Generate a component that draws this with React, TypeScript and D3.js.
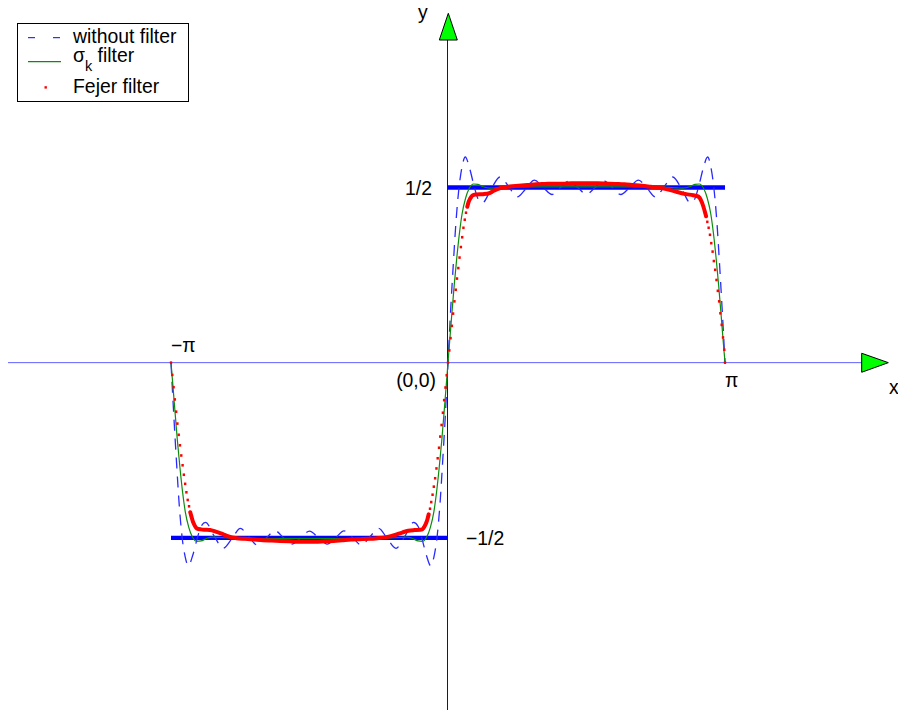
import React from 'react';
import * as d3 from 'd3';

type P = [number, number];

// Partial sums: x in radians, y value.
const withoutFilter: P[] = [
  [-3.1416, 0], [-3.11, -0.15], [-3.08, -0.28], [-3.05, -0.40], [-3.015, -0.50], [-2.98, -0.555],
  [-2.945, -0.58], [-2.895, -0.55], [-2.845, -0.503], [-2.80, -0.467], [-2.75, -0.456], [-2.65, -0.496],
  [-2.55, -0.53], [-2.45, -0.502], [-2.355, -0.473], [-2.26, -0.497], [-2.16, -0.521], [-2.06, -0.5],
  [-1.96, -0.48], [-1.865, -0.5], [-1.77, -0.518], [-1.67, -0.5], [-1.57, -0.481], [-1.47, -0.5],
  [-1.37, -0.518], [-1.275, -0.5], [-1.18, -0.48], [-1.08, -0.5], [-0.98, -0.521], [-0.885, -0.497],
  [-0.785, -0.473], [-0.69, -0.502], [-0.59, -0.53], [-0.49, -0.496], [-0.39, -0.456], [-0.34, -0.467],
  [-0.295, -0.503], [-0.245, -0.55], [-0.196, -0.58], [-0.16, -0.555], [-0.125, -0.50], [-0.09, -0.40],
  [-0.06, -0.28], [-0.03, -0.15], [0, 0],
  [0.03, 0.15], [0.06, 0.28], [0.09, 0.40], [0.125, 0.50], [0.16, 0.56], [0.196, 0.587],
  [0.245, 0.555], [0.295, 0.505], [0.34, 0.468], [0.39, 0.456], [0.49, 0.496], [0.59, 0.53],
  [0.69, 0.502], [0.785, 0.473], [0.885, 0.497], [0.98, 0.521], [1.08, 0.5], [1.18, 0.48],
  [1.275, 0.5], [1.37, 0.518], [1.47, 0.5], [1.57, 0.481], [1.67, 0.5], [1.77, 0.518],
  [1.865, 0.5], [1.96, 0.48], [2.06, 0.5], [2.16, 0.521], [2.26, 0.497], [2.355, 0.473],
  [2.45, 0.502], [2.55, 0.53], [2.65, 0.496], [2.75, 0.456], [2.80, 0.468], [2.845, 0.505],
  [2.895, 0.555], [2.945, 0.587], [2.98, 0.56], [3.015, 0.50], [3.05, 0.40], [3.08, 0.28],
  [3.11, 0.15], [3.1416, 0],
];

const sigmaFilter: P[] = [
  [-3.1416, 0], [-3.12, -0.065], [-3.10, -0.128], [-3.07, -0.22], [-3.04, -0.30], [-3.01, -0.37],
  [-2.98, -0.425], [-2.94, -0.47], [-2.90, -0.497], [-2.85, -0.51], [-2.80, -0.509], [-2.74, -0.502],
  [-2.67, -0.498], [-2.59, -0.499], [-2.45, -0.501], [-2.15, -0.502], [-1.85, -0.502], [-1.57, -0.502],
  [-1.3, -0.502], [-1.0, -0.502], [-0.7, -0.501], [-0.55, -0.499], [-0.47, -0.498], [-0.4, -0.502],
  [-0.34, -0.509], [-0.29, -0.51], [-0.24, -0.497], [-0.2, -0.47], [-0.16, -0.425], [-0.13, -0.37],
  [-0.1, -0.30], [-0.07, -0.22], [-0.04, -0.128], [-0.02, -0.065], [0, 0],
  [0.02, 0.065], [0.04, 0.128], [0.07, 0.22], [0.1, 0.30], [0.13, 0.37], [0.16, 0.425],
  [0.2, 0.47], [0.24, 0.497], [0.29, 0.51], [0.34, 0.509], [0.4, 0.502], [0.47, 0.498],
  [0.55, 0.499], [0.7, 0.501], [1.0, 0.502], [1.3, 0.502], [1.57, 0.502], [1.85, 0.502],
  [2.15, 0.502], [2.45, 0.501], [2.59, 0.499], [2.67, 0.498], [2.74, 0.502], [2.80, 0.509],
  [2.85, 0.51], [2.90, 0.497], [2.94, 0.47], [2.98, 0.425], [3.01, 0.37], [3.04, 0.30],
  [3.07, 0.22], [3.10, 0.128], [3.12, 0.065], [3.1416, 0],
];

const fejerFilter: P[] = [
  [-3.1416, 0], [-3.127, -0.035], [-3.112, -0.07], [-3.098, -0.105], [-3.083, -0.14], [-3.069, -0.174],
  [-3.054, -0.206], [-3.04, -0.236], [-3.025, -0.265], [-3.01, -0.293], [-2.996, -0.32], [-2.981, -0.346],
  [-2.967, -0.37], [-2.952, -0.392], [-2.937, -0.41], [-2.923, -0.427], [-2.908, -0.441], [-2.894, -0.453],
  [-2.879, -0.462], [-2.864, -0.469], [-2.85, -0.473], [-2.8, -0.476], [-2.75, -0.477], [-2.7, -0.478],
  [-2.65, -0.481], [-2.6, -0.485], [-2.55, -0.49], [-2.5, -0.495], [-2.45, -0.499], [-2.4, -0.501],
  [-2.3, -0.503], [-2.2, -0.505], [-2.1, -0.507], [-2.0, -0.508], [-1.9, -0.509], [-1.8, -0.51],
  [-1.7, -0.511], [-1.6, -0.511], [-1.5, -0.511], [-1.4, -0.51], [-1.3, -0.509], [-1.2, -0.507],
  [-1.1, -0.505], [-1.0, -0.504], [-0.9, -0.503], [-0.8, -0.501], [-0.7, -0.498], [-0.6, -0.492],
  [-0.52, -0.485], [-0.45, -0.48], [-0.38, -0.478], [-0.32, -0.477], [-0.292, -0.476], [-0.277, -0.472],
  [-0.263, -0.466], [-0.248, -0.458], [-0.233, -0.447], [-0.219, -0.433], [-0.204, -0.417], [-0.19, -0.398],
  [-0.175, -0.377], [-0.161, -0.354], [-0.146, -0.33], [-0.131, -0.302], [-0.117, -0.273], [-0.102, -0.243],
  [-0.088, -0.211], [-0.073, -0.178], [-0.058, -0.143], [-0.044, -0.107], [-0.029, -0.071], [-0.015, -0.036],
  [0, 0],
  [0.015, 0.035], [0.029, 0.07], [0.044, 0.105], [0.058, 0.14], [0.073, 0.175], [0.088, 0.208],
  [0.102, 0.24], [0.117, 0.27], [0.131, 0.3], [0.146, 0.33], [0.161, 0.358], [0.175, 0.385],
  [0.19, 0.408], [0.204, 0.428], [0.219, 0.445], [0.233, 0.458], [0.248, 0.467], [0.263, 0.473],
  [0.277, 0.477], [0.292, 0.479], [0.32, 0.48], [0.4, 0.481], [0.47, 0.484], [0.52, 0.491],
  [0.6, 0.499], [0.7, 0.503], [0.8, 0.505], [0.9, 0.507], [1.0, 0.509], [1.1, 0.51],
  [1.2, 0.511], [1.3, 0.511], [1.4, 0.512], [1.5, 0.512], [1.6, 0.512], [1.7, 0.512],
  [1.8, 0.511], [1.9, 0.51], [2.0, 0.509], [2.1, 0.507], [2.2, 0.505], [2.3, 0.502],
  [2.4, 0.499], [2.5, 0.494], [2.6, 0.487], [2.7, 0.481], [2.78, 0.478], [2.84, 0.474],
  [2.853, 0.471], [2.867, 0.465], [2.882, 0.456], [2.897, 0.445], [2.912, 0.432], [2.927, 0.418],
  [2.941, 0.402], [2.956, 0.385], [2.971, 0.365], [2.986, 0.341], [3.001, 0.317], [3.015, 0.29],
  [3.03, 0.265], [3.045, 0.236], [3.06, 0.205], [3.075, 0.175], [3.089, 0.141], [3.104, 0.108],
  [3.119, 0.072], [3.134, 0.037], [3.1416, 0],
];

// the square wave itself
const squareWave = [
  { x0: -Math.PI, x1: 0, y: -0.5 },
  { x0: 0, x1: Math.PI, y: 0.5 },
];

const xTickLabels = [
  { v: -Math.PI, label: '−π' },
  { v: Math.PI, label: 'π' },
];
const yTickLabels = [
  { v: 0.5, label: '1/2' },
  { v: -0.5, label: '−1/2' },
];
const legendLabels = ['without filter', 'σ', 'Fejer filter'];

const FONT = '"Liberation Sans", Arial, Helvetica, sans-serif';

export default function App() {
  const x = d3.scaleLinear().domain([-Math.PI, Math.PI]).range([171, 725]);
  const y = d3.scaleLinear().domain([-0.5, 0.5]).range([537.8, 187.5]);
  const line = d3
    .line<P>()
    .x((d) => x(d[0]))
    .y((d) => y(d[1]))
    .curve(d3.curveMonotoneX);

  // Fejer: dots, which merge into a thick band where consecutive samples are close
  const runs: P[][] = [];
  let cur: P[] = [fejerFilter[0]];
  for (let i = 1; i < fejerFilter.length; i++) {
    const a = fejerFilter[i - 1];
    const b = fejerFilter[i];
    if (Math.abs(y(a[1]) - y(b[1])) < 5) {
      cur.push(b);
    } else {
      if (cur.length > 1) runs.push(cur);
      cur = [b];
    }
  }
  if (cur.length > 1) runs.push(cur);

  const x0 = x(0);
  const y0 = y(0);

  return (
    <svg
      width={898}
      height={710}
      style={{ position: 'absolute', left: 0, top: 0, background: '#fff' }}
      fontFamily={FONT}
    >
      <rect x={0} y={0} width={898} height={710} fill="#fff" />
      {/* axes */}
      <line x1={8} x2={862} y1={y0} y2={y0} stroke="#6060ff" strokeWidth={1} />
      <line x1={x0 - 0.5} x2={x0 - 0.5} y1={40} y2={710} stroke="#0000ff" strokeWidth={1} />
      <polygon
        points={`${x0 - 8.7},40 ${x0 + 9.3},40 ${x0 + 0.3},13.3`}
        fill="#00ff00"
        stroke="#000"
        strokeWidth={1}
      />
      <polygon
        points={`861.7,${y0 - 9.4} 861.7,${y0 + 9.6} 888.3,${y0}`}
        fill="#00ff00"
        stroke="#000"
        strokeWidth={1}
      />

      {/* square wave */}
      {squareWave.map((s, i) => (
        <line key={i} x1={x(s.x0)} x2={x(s.x1)} y1={y(s.y)} y2={y(s.y)} stroke="#0000ff" strokeWidth={4.3} />
      ))}

      {/* without filter */}
      <path d={line(withoutFilter) || ''} fill="none" stroke="#2a2aff" strokeWidth={1.3} strokeDasharray="11,8" />
      {/* sigma filter */}
      <path d={line(sigmaFilter) || ''} fill="none" stroke="#0c8c0c" strokeWidth={1.2} />
      {/* fejer filter */}
      {runs.map((r, i) => (
        <path
          key={i}
          d={line(r) || ''}
          fill="none"
          stroke="#ff0000"
          strokeWidth={4}
          strokeLinecap="round"
          strokeLinejoin="round"
        />
      ))}
      {fejerFilter.map((d, i) => (
        <rect key={i} x={x(d[0]) - 1.2} y={y(d[1]) - 1.3} width={2.4} height={2.6} fill="#ff0000" />
      ))}

      {/* labels */}
      <g fontSize={19.4} fill="#000">
        <text x={x(xTickLabels[0].v)} y={y0 - 10.7}>{xTickLabels[0].label}</text>
        <text x={x(xTickLabels[1].v)} y={y0 + 24.5}>{xTickLabels[1].label}</text>
        <text x={x0 - 16} y={y(yTickLabels[0].v) + 7.5} textAnchor="end">{yTickLabels[0].label}</text>
        <text x={x0 + 18} y={y(yTickLabels[1].v) + 7.5}>{yTickLabels[1].label}</text>
        <text x={x0 - 12} y={y0 + 24.5} textAnchor="end">(0,0)</text>
        <text x={418} y={18.5}>y</text>
        <text x={889} y={394}>x</text>
      </g>

      {/* legend */}
      <rect x={17.5} y={23.5} width={171} height={78} fill="#fff" stroke="#000" strokeWidth={1} />
      <line x1={28} x2={61} y1={37.7} y2={37.7} stroke="#0000ff" strokeWidth={1} strokeDasharray="7,18" />
      <line x1={28} x2={61} y1={61.7} y2={61.7} stroke="#0c8c0c" strokeWidth={1.2} />
      <rect x={44.5} y={86.2} width={2.4} height={2.4} fill="#ff0000" />
      <g fontSize={19.4} fill="#000">
        <text x={73} y={42.5}>{legendLabels[0]}</text>
        <text x={73} y={61.7}>
          {legendLabels[1]}
          <tspan fontSize={14.5} dy={9}>k</tspan>
          <tspan dy={-9}> filter</tspan>
        </text>
        <text x={73} y={93.4}>{legendLabels[2]}</text>
      </g>
    </svg>
  );
}
